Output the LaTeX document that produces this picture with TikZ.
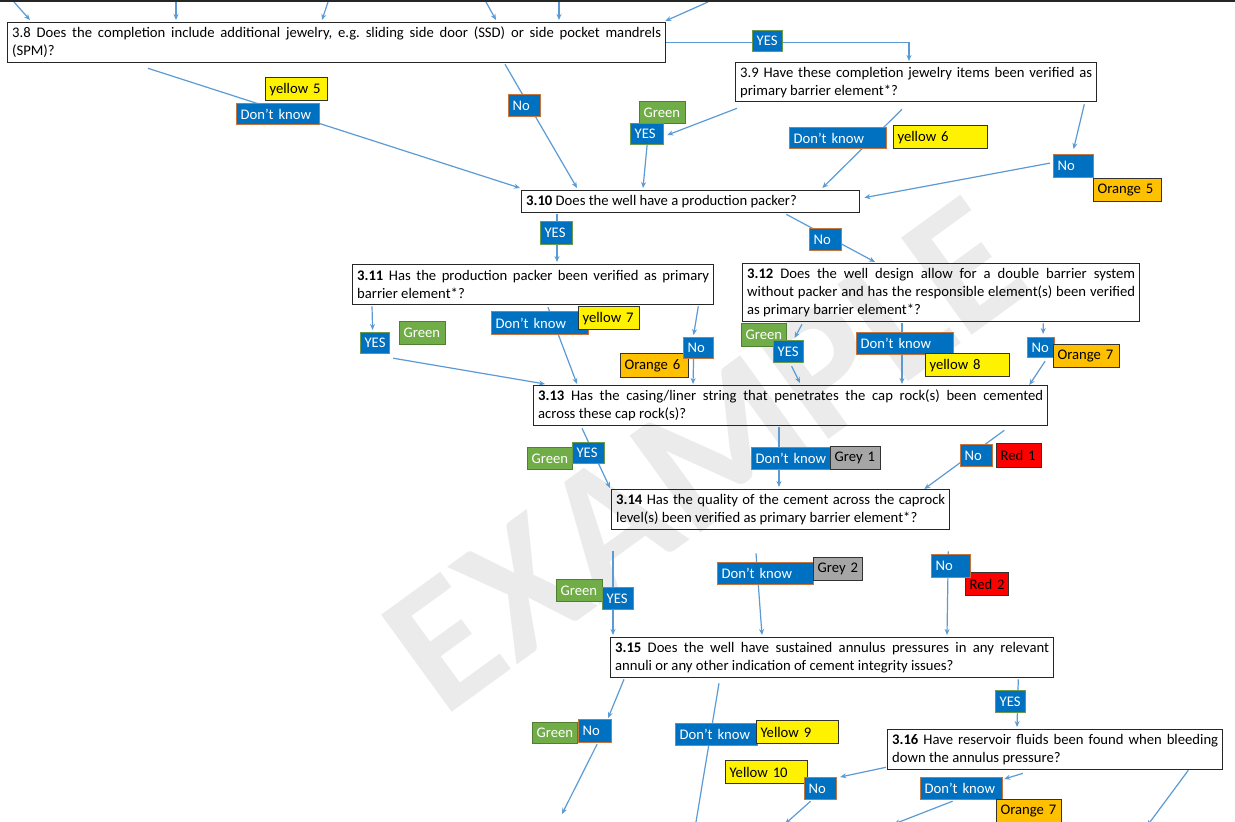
\documentclass[tikz,border=0pt]{standalone}
\usepackage{fontspec}
\setmainfont{Carlito}
\usetikzlibrary{arrows.meta,calc,backgrounds}
\definecolor{lnk}{HTML}{5B9BD5}
\definecolor{bfill}{HTML}{0070C0}
\definecolor{bedge}{HTML}{C7743C}
\definecolor{yedge}{HTML}{6A9A4A}
\definecolor{gfill}{HTML}{70AD47}
\definecolor{gedge}{HTML}{507E32}
\definecolor{ofill}{HTML}{FFC000}
\definecolor{gyfill}{HTML}{A6A6A6}
\hyphenpenalty=10000
\exhyphenpenalty=10000
\tolerance=9999
\frenchspacing
\newcommand\qbox[6]{%
 \pgfmathsetmacro\qw{#4-#2-9}\pgfmathsetmacro\qh{#5-#3}%
 \node[qst, text width=\qw pt, minimum height=\qh pt] (#1) at (#2,#3) {#6};}
\newcommand\lab[7]{%
 \pgfmathsetmacro\lw{#5-#3-8}\pgfmathsetmacro\lh{#6-#4}%
 \node[#2, text width=\lw pt, minimum height=\lh pt] (#1) at (#3,#4) {\mbox{#7}};}
\begin{document}
\begin{tikzpicture}[x=1pt,y=-1pt,
  qst/.style={draw=black!85, line width=1.3pt, inner xsep=4.5pt, inner ysep=1pt,
    anchor=north west, align=justify, font=\fontsize{14.67}{18}\selectfont\frenchspacing},
  lbase/.style={line width=1.2pt, inner xsep=4pt, inner ysep=0pt, anchor=north west,
    align=left, font=\fontsize{14.67}{17}\selectfont},
  lbn/.style={lbase, fill=bfill, draw=bedge, text=white},
  lby/.style={lbase, fill=bfill, draw=yedge, text=white},
  lgr/.style={lbase, fill=gfill, draw=gedge, text=white},
  lye/.style={lbase, fill=yellow, draw=black!80, text=black},
  lor/.style={lbase, fill=ofill, draw=black!80, text=black},
  lgy/.style={lbase, fill=gyfill, draw=black!80, text=black},
  lrd/.style={lbase, fill=red, draw=black!80, text=black},
  conn/.style={draw=lnk, line width=1.2pt, -{Stealth[length=6pt,width=5pt]}},
]
\useasboundingbox (0,0) rectangle (1235,822);

% question boxes
\qbox{q38}{7}{22}{665}{62}{3.8 Does the completion include additional jewelry, e.g. sliding side door (SSD) or side pocket mandrels\linebreak (SPM)?}
\qbox{q39}{735}{62}{1096}{101}{3.9 Have these completion jewelry items been verified as\linebreak primary barrier element*?}
\qbox{q310}{521}{190}{859}{212}{\textbf{3.10} Does the well have a production packer?}
\qbox{q311}{352}{264}{713}{304}{\textbf{3.11} Has the production packer been verified as primary\linebreak barrier element*?}
\qbox{q312}{742}{263}{1139}{321}{\textbf{3.12} Does the well design allow for a double barrier system\linebreak without packer and has the responsible element(s) been verified\linebreak as primary barrier element*?}
\qbox{q313}{533}{385}{1047}{425}{\textbf{3.13} Has the casing/liner string that penetrates the cap rock(s) been cemented\linebreak across these cap rock(s)?}
\qbox{q314}{611}{489}{949}{529}{\textbf{3.14} Has the quality of the cement across the caprock\linebreak level(s) been verified as primary barrier element*?}
\qbox{q315}{610}{637}{1053}{677}{\textbf{3.15} Does the well have sustained annulus pressures in any relevant\linebreak annuli or any other indication of cement integrity issues?}
\qbox{q316}{887}{729}{1222}{769}{\textbf{3.16} Have reservoir fluids been found when bleeding\linebreak down the annulus pressure?}

% labels
\lab{yes38}{lby}{752}{30}{782}{51}{YES}
\lab{dk38}{lbn}{236}{103}{319}{124}{Don’t know}
\lab{ye5}{lye}{265}{77}{327}{100}{yellow 5}
\lab{no38}{lbn}{508}{94}{540}{116}{No}
\lab{gr39}{lgr}{639}{101}{685}{123}{Green}
\lab{yes39}{lby}{630}{123}{663}{144}{YES}
\lab{dk39}{lbn}{789}{127}{886}{148}{Don’t know}
\lab{ye6}{lye}{893}{125}{987}{148}{yellow 6}
\lab{no39}{lbn}{1053}{154}{1093}{177}{No}
\lab{or5}{lor}{1093}{178}{1161}{201}{Orange 5}
\lab{yes310}{lby}{540}{221}{572}{244}{YES}
\lab{no310}{lbn}{809}{228}{841}{250}{No}
\lab{yes311}{lby}{360}{332}{389}{353}{YES}
\lab{gr311}{lgr}{399}{321}{445}{344}{Green}
\lab{dk311}{lbn}{491}{311}{588}{334}{Don’t know}
\lab{ye7}{lye}{578}{306}{639}{329}{yellow 7}
\lab{or6}{lor}{620}{353}{688}{377}{Orange 6}
\lab{no311}{lbn}{683}{337}{713}{358}{No}
\lab{gr312}{lgr}{741}{323}{786}{346}{Green}
\lab{yes312}{lby}{773}{340}{803}{362}{YES}
\lab{dk312}{lbn}{856}{332}{953}{354}{Don’t know}
\lab{ye8}{lye}{925}{353}{1009}{376}{yellow 8}
\lab{no312}{lbn}{1027}{337}{1054}{357}{No}
\lab{or7}{lor}{1053}{344}{1119}{367}{Orange 7}
\lab{gr313}{lgr}{527}{447}{572}{469}{Green}
\lab{yes313}{lby}{572}{442}{604}{463}{YES}
\lab{dk313}{lbn}{751}{447}{830}{469}{Don’t know}
\lab{gy1}{lgy}{830}{446}{880}{469}{Grey 1}
\lab{no313}{lbn}{960}{444}{992}{466}{No}
\lab{rd1}{lrd}{996}{443}{1041}{467}{Red 1}
\lab{gr314}{lgr}{556}{579}{602}{601}{Green}
\lab{yes314}{lby}{602}{587}{633}{609}{YES}
\lab{dk314}{lbn}{717}{562}{813}{584}{Don’t know}
\lab{gy2}{lgy}{813}{557}{862}{580}{Grey 2}
\lab{rd2}{lrd}{965}{572}{1008}{595}{Red 2}
\lab{no314}{lbn}{931}{554}{970}{577}{No}
\lab{yes315}{lby}{995}{690}{1025}{712}{YES}
\lab{gr315}{lgr}{532}{722}{577}{743}{Green}
\lab{no315}{lbn}{578}{719}{611}{742}{No}
\lab{dk315}{lbn}{675}{723}{757}{745}{Don’t know}
\lab{ye9}{lye}{756}{720}{838}{743}{Yellow 9}
\lab{ye10}{lye}{725}{760}{807}{783}{Yellow 10}
\lab{no316}{lbn}{804}{777}{836}{799}{No}
\lab{dk316}{lbn}{920}{777}{1002}{799}{Don’t know}
\lab{or7b}{lor}{996}{799}{1061}{822}{Orange 7}

% top border
\draw[line width=2.2pt, black!85] (0,1) -- (1235,1);

\coordinate (t1) at (14,2); \coordinate (t2) at (176,2); \coordinate (t3) at (328,2);
\coordinate (t4) at (486,2); \coordinate (t5) at (559,2); \coordinate (t6) at (708,2);
\coordinate (o1) at (562,814); \coordinate (o2) at (695,828); \coordinate (o3) at (785,824);
\coordinate (o4) at (894,824); \coordinate (o5) at (1147,826);

\begin{scope}[on background layer]
\fill[white] (0,0) rectangle (1235,822);
\node[rotate=36, text=black!8, font=\fontsize{185}{185}\selectfont\bfseries] (wm) at (705,455) {EXAMPLE};

\draw[conn] (t1) -- ($(q38.north west)+(23,-2)$);
\draw[conn] (t2) -- ($(q38.north west)+(169,-2)$);
\draw[conn] (t3) -- ($(q38.north west)+(315,-2)$);
\draw[conn] (t4) -- ($(q38.north west)+(489,-2)$);
\draw[conn] (t5) -- ($(q38.north west)+(552,-2)$);
\draw[conn] (t6) -- ($(q38.north east)+(-1,-1)$);

\draw[conn] (q38.east) -| ($(q39.north west)+(174,-1)$);
\draw[conn] ($(q38.south west)+(141,5)$) -- ($(q310.north west)+(-1,-2)$);
\draw[conn] ($(q38.south west)+(498,1)$) -- ($(q310.north west)+(56,-2)$);
\draw[conn] ($(q39.south west)+(2,6)$) -- ($(yes39.east)+(3,1)$);
\draw[conn] (yes39.south) -- ($(q310.north west)+(122,-2)$);
\draw[conn] ($(q39.south west)+(167,7)$) -- ($(q310.north east)+(-38,-2)$);
\draw[conn] ($(q39.south east)+(-13,2)$) -- ($(no39.north)+(0,-5)$);
\draw[conn] ($(no39.west)+(-3,-3)$) -- ($(q310.east)+(4,-4)$);
\draw[conn] ($(q310.south west)+(36,1)$) -- ($(q311.north west)+(205,-2)$);
\draw[conn] ($(q310.south east)+(-74,1)$) -- ($(q312.north west)+(133,-1)$);
\draw[conn] ($(q311.south west)+(20,1)$) -- ($(yes311.north)+(-2.5,-2)$);
\draw[conn] ($(yes311.south east)+(3,4)$) -- ($(q313.north west)+(12,-1)$);
\draw[conn] ($(q311.south west)+(196,2)$) -- ($(q313.north west)+(44,-1)$);
\draw[conn] ($(q311.south east)+(-16,1)$) -- ($(no311.north)+(-5,-2)$);
\draw[conn] ($(no311.south)+(-5,0)$) -- ($(q313.north west)+(160,-1)$);
\draw[conn] ($(q312.south west)+(60,2)$) -- ($(yes312.north)+(6,-2)$);
\draw[conn] ($(yes312.south)+(3,3)$) -- ($(q313.north west)+(267,-2)$);
\draw[conn] ($(q312.south west)+(160,1)$) -- ($(q313.north west)+(369,-1)$);
\draw[conn] ($(q312.south east)+(-97,1)$) -- ($(no312.north)+(2,-3)$);
\draw[conn] ($(no312.south)+(4,3)$) -- ($(q313.north east)+(-19,0)$);
\draw[conn] ($(q313.south west)+(49,2)$) -- ($(q314.north west)+(-1,-1)$);
\draw[conn] ($(q313.south west)+(246,1)$) -- ($(q314.north west)+(168,-2)$);
\draw[conn] ($(q313.south east)+(-44,4)$) -- ($(q314.north east)+(-26,0)$);
\draw[conn] ($(q314.south west)+(2,21)$) -- ($(q315.north west)+(3,-2)$);
\draw[conn] ($(q314.south west)+(145,23)$) -- ($(q315.north west)+(152,-2)$);
\draw[conn] ($(q314.south east)+(-2,21)$) -- ($(q315.north west)+(337,-2)$);
\draw[conn] ($(q315.south east)+(-36,1)$) -- ($(q316.north west)+(130,-2)$);
\draw[conn] ($(q315.south west)+(14,1)$) -- ($(no315.north)+(13,-1)$);
\draw[conn] ($(no315.south)+(2,1)$) -- (o1);
\draw[conn] ($(q315.south west)+(109,5)$) -- (o2);
\draw[conn] ($(q316.south west)+(-1,-3)$) -- ($(no316.north east)+(3,0)$);
\draw[conn] ($(no316.south)+(-10,1)$) -- (o3);
\draw[conn] ($(q316.south west)+(136,3)$) -- ($(dk316.north east)+(1,2)$);
\draw[conn] ($(dk316.south)+(-9,1)$) -- (o4);
\draw[conn] ($(q316.south east)+(-35,0)$) -- (o5);
\end{scope}
\end{tikzpicture}
\end{document}
